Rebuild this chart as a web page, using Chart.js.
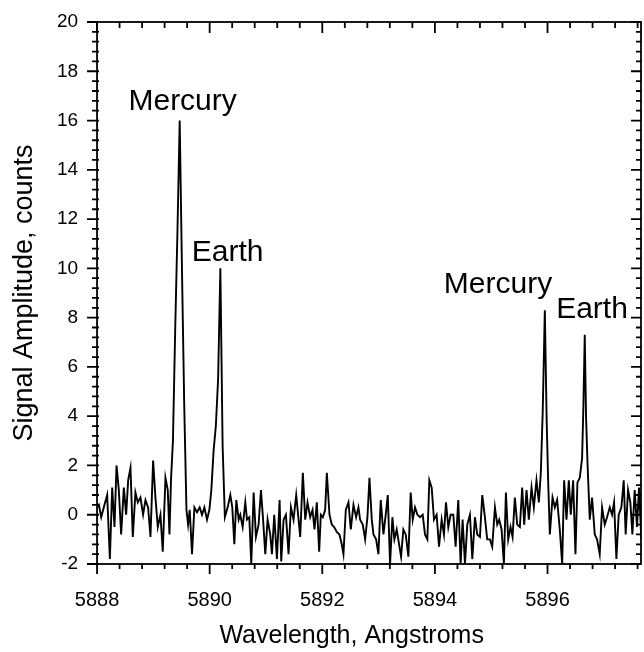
<!DOCTYPE html>
<html>
<head>
<meta charset="utf-8">
<script src="https://cdn.jsdelivr.net/npm/chart.js@4/dist/chart.umd.min.js"></script>
<style>
    html, body { margin: 0; padding: 0; background: #fff; }
    #wrap { position: relative; width: 644px; height: 652px; }
</style>
</head>
<body>
<div id="wrap"><canvas id="chart"></canvas></div>
<script>
// Spectrum: wavelength (Angstroms) and signal (counts)
var wavelength = [
    5888.000, 5888.033, 5888.074, 5888.121, 5888.180, 5888.228, 5888.269, 5888.310, 5888.346, 5888.387,
    5888.428, 5888.476, 5888.517, 5888.553, 5888.594, 5888.635, 5888.682, 5888.724, 5888.771, 5888.818,
    5888.860, 5888.907, 5888.949, 5888.996, 5889.037, 5889.079, 5889.126, 5889.167, 5889.215, 5889.256,
    5889.286, 5889.315, 5889.348, 5889.388, 5889.428, 5889.468, 5889.508, 5889.548, 5889.588, 5889.617,
    5889.646, 5889.687, 5889.729, 5889.776, 5889.823, 5889.864, 5889.906, 5889.953, 5889.995, 5890.030,
    5890.070, 5890.110, 5890.150, 5890.190, 5890.230, 5890.270, 5890.320, 5890.367, 5890.402, 5890.438,
    5890.473, 5890.515, 5890.544, 5890.586, 5890.633, 5890.663, 5890.704, 5890.739, 5890.781, 5890.822,
    5890.869, 5890.911, 5890.946, 5890.988, 5891.029, 5891.076, 5891.106, 5891.147, 5891.195, 5891.242,
    5891.271, 5891.313, 5891.354, 5891.401, 5891.443, 5891.490, 5891.537, 5891.579, 5891.608, 5891.655,
    5891.697, 5891.738, 5891.785, 5891.827, 5891.862, 5891.903, 5891.945, 5891.974, 5892.010, 5892.051,
    5892.081, 5892.128, 5892.169, 5892.211, 5892.258, 5892.305, 5892.346, 5892.376, 5892.418, 5892.465,
    5892.506, 5892.554, 5892.601, 5892.642, 5892.672, 5892.719, 5892.761, 5892.802, 5892.838, 5892.879,
    5892.909, 5892.956, 5892.997, 5893.038, 5893.086, 5893.127, 5893.163, 5893.204, 5893.245, 5893.281,
    5893.322, 5893.364, 5893.399, 5893.440, 5893.482, 5893.529, 5893.570, 5893.606, 5893.647, 5893.689,
    5893.736, 5893.783, 5893.824, 5893.866, 5893.901, 5893.943, 5893.984, 5894.031, 5894.073, 5894.120,
    5894.161, 5894.197, 5894.238, 5894.279, 5894.327, 5894.368, 5894.415, 5894.457, 5894.492, 5894.534,
    5894.575, 5894.622, 5894.664, 5894.711, 5894.752, 5894.800, 5894.841, 5894.888, 5894.929, 5894.977,
    5895.018, 5895.066, 5895.107, 5895.142, 5895.184, 5895.225, 5895.261, 5895.302, 5895.343, 5895.379,
    5895.420, 5895.462, 5895.509, 5895.550, 5895.586, 5895.627, 5895.668, 5895.716, 5895.757, 5895.804,
    5895.846, 5895.881, 5895.915, 5895.952, 5895.985, 5896.011, 5896.041, 5896.089, 5896.130, 5896.171,
    5896.218, 5896.260, 5896.295, 5896.337, 5896.378, 5896.413, 5896.455, 5896.496, 5896.531, 5896.573,
    5896.614, 5896.638, 5896.661, 5896.684, 5896.710, 5896.750, 5896.791, 5896.839, 5896.880, 5896.927,
    5896.969, 5897.016, 5897.057, 5897.105, 5897.146, 5897.182, 5897.223, 5897.264, 5897.312, 5897.353,
    5897.388, 5897.430, 5897.471, 5897.507, 5897.548, 5897.589, 5897.625, 5897.666, 5897.707
]
var counts = [
    0.3, 0.4, -0.1, 0.3, 0.8, -1.8, 1.1, -0.5, 2.0, 1.0,
    -0.8, 1.1, 0.0, 1.4, 1.9, -0.9, 0.9, 0.5, 0.7, 0.0,
    0.6, 0.3, -0.9, 2.2, 0.7, -0.5, 0.0, -1.5, 1.5, 1.0,
    -0.8, 1.5, 3.0, 7.5, 11.5, 16.0, 10.0, 4.5, 0.2, -0.4,
    0.2, -1.6, 0.3, 0.1, 0.3, 0.0, 0.3, -0.2, 0.2, 1.0,
    2.6, 3.6, 5.5, 10.0, 2.8, -0.1, 0.3, 0.8, 0.3, -1.2,
    0.6, -0.2, 0.0, -0.5, 0.5, -0.2, -0.1, -2.0, 0.9, -0.9,
    -0.4, 1.0, -0.1, -1.6, -0.2, -0.8, -1.6, 0.0, -1.8, 0.6,
    -1.9, -0.2, 0.0, -1.6, 0.3, -0.2, 0.8, -0.2, -0.9, 1.7,
    -0.2, 0.5, -0.1, 0.2, -0.6, 0.5, -1.5, 0.0, -0.1, 0.2,
    1.7, 0.0, -0.4, -0.5, -0.7, -0.8, -1.2, -1.6, 0.2, 0.5,
    -0.6, 0.4, -0.1, 0.3, -0.2, -0.4, -1.0, -0.1, 1.5, -0.2,
    -0.8, -1.0, -1.6, 0.6, -0.8, 0.0, 0.8, -2.0, -0.1, -1.0,
    -0.6, -1.2, -1.7, -0.6, -0.8, -1.7, 0.9, -0.2, 0.3, 0.0,
    -0.1, 0.0, -0.8, -1.0, 1.4, 1.1, -0.2, 0.0, -1.3, -0.2,
    -0.8, 0.5, -0.5, 0.0, 0.0, -1.3, 0.6, -2.0, -0.2, -2.0,
    -0.4, 0.0, -1.8, -0.1, -0.8, -0.9, 0.8, -0.1, -1.0, -1.0,
    -1.3, 0.3, -0.4, -0.2, -0.6, -2.0, 0.9, -1.0, -0.5, -0.9,
    0.7, -0.4, -0.5, 1.1, -0.4, 1.0, -0.2, 1.1, 0.3, 1.4,
    0.5, 1.7, 4.2, 8.3, 3.8, 1.4, -0.8, 0.7, 0.3, 0.6,
    -0.6, -2.0, 1.4, -0.2, 1.4, 0.0, 1.4, -1.6, 1.3, 1.5,
    2.3, 4.5, 7.3, 4.0, 2.1, -0.2, 0.7, -0.8, -1.0, -1.6,
    0.3, -0.4, -0.1, 0.3, 0.0, 0.5, -1.8, 0.0, 0.3, 1.4,
    -0.8, 1.0, 0.5, -0.8, 1.0, -0.5, 1.1, -1.0, 0.0
]

// Peak labels and where they sit (data units, text baseline)
var peakLabels = ['Mercury', 'Earth', 'Mercury', 'Earth']
var peakLabelX = [5889.52, 5890.32, 5895.12, 5896.79]
var peakLabelY = [16.43, 10.30, 9.00, 7.98]

var xMin = 5888, xMax = 5897.66, xStep = 0.4, xLabelEvery = 2
var yMin = -2, yMax = 20, yStep = 0.4, yLabelEvery = 2

var fontFamily = "'Liberation Sans', Arial, Helvetica, sans-serif"

function isMajor(value, every) {
    return Math.abs(value / every - Math.round(value / every)) < 1e-6
}

/**
 * Box frame with tick marks: outward on left and bottom, inward on top and right
 */
var frameTicks = {
    id: 'frameTicks',
    afterDraw: function (chart) {
        var ctx = chart.ctx
        var a = chart.chartArea
        var xs = chart.scales.x
        var ys = chart.scales.y
        ctx.save()
        ctx.strokeStyle = '#000'
        ctx.lineWidth = 1.8
        ctx.strokeRect(a.left, a.top, a.right - a.left, a.bottom - a.top)
        ctx.beginPath()
        xs.ticks.forEach(function (t) {
            var px = xs.getPixelForValue(t.value)
            var len = isMajor(t.value, xLabelEvery) ? 10 : 5
            ctx.moveTo(px, a.bottom - 1)
            ctx.lineTo(px, a.bottom + len)
            ctx.moveTo(px, a.top)
            ctx.lineTo(px, a.top + len + 1)
        })
        ys.ticks.forEach(function (t) {
            var py = ys.getPixelForValue(t.value)
            var len = isMajor(t.value, yLabelEvery) ? 10 : 5
            ctx.moveTo(a.left + 2, py)
            ctx.lineTo(a.left - len, py)
            ctx.moveTo(a.right, py)
            ctx.lineTo(a.right - len, py)
        })
        ctx.stroke()
        ctx.restore()
    }
}

/**
 * Text labels next to the emission peaks
 */
var peakText = {
    id: 'peakText',
    afterDatasetsDraw: function (chart) {
        var ctx = chart.ctx
        ctx.save()
        ctx.fillStyle = '#000'
        ctx.font = '30px ' + fontFamily
        ctx.textAlign = 'center'
        ctx.textBaseline = 'alphabetic'
        for (var i = 0; i < peakLabels.length; i++) {
            ctx.fillText(peakLabels[i], chart.scales.x.getPixelForValue(peakLabelX[i]), chart.scales.y.getPixelForValue(peakLabelY[i]))
        }
        ctx.restore()
    }
}

function renderChart() {
    var points = wavelength.map(function (w, i) { return { x: w, y: counts[i] } })

    var config = {
        type: 'line',
        data: {
            datasets: [{
                data: points,
                borderColor: '#000',
                borderWidth: 1.9,
                pointRadius: 0,
                tension: 0,
                fill: false
            }]
        },
        options: {
            responsive: true,
            maintainAspectRatio: false,
            animation: false,
            events: [],
            layout: { padding: { top: 22, right: 3, bottom: 0, left: 0 } },
            plugins: { legend: { display: false }, tooltip: { enabled: false } },
            scales: {
                x: {
                    type: 'linear',
                    min: xMin,
                    max: xMax,
                    border: { display: false },
                    grid: { display: false, drawTicks: false },
                    ticks: {
                        stepSize: xStep,
                        autoSkip: false,
                        includeBounds: false,
                        maxRotation: 0,
                        padding: 2,
                        color: '#000',
                        // tall line box pushes the labels down without widening the right padding
                        font: { size: 20, family: fontFamily, lineHeight: 3.45 },
                        callback: function (v) { return isMajor(v, xLabelEvery) ? String(Math.round(v)) : '' }
                    },
                    title: {
                        display: true,
                        text: 'Wavelength, Angstroms     ',
                        color: '#000',
                        font: { size: 25, family: fontFamily },
                        padding: { top: -16, bottom: 1 }
                    }
                },
                y: {
                    min: yMin,
                    max: yMax,
                    border: { display: false },
                    grid: { display: false, drawTicks: false },
                    ticks: {
                        stepSize: yStep,
                        autoSkip: false,
                        padding: 19,
                        color: '#000',
                        // small line box keeps the top padding under the layout padding
                        font: { size: 19, family: fontFamily, lineHeight: 0.3 },
                        callback: function (v) { return isMajor(v, yLabelEvery) ? String(Math.round(v)) : '' }
                    },
                    title: {
                        display: true,
                        text: 'Signal Amplitude, counts',
                        color: '#000',
                        font: { size: 27, family: fontFamily },
                        padding: { top: 8, bottom: -2.5 }
                    }
                }
            }
        },
        plugins: [frameTicks, peakText]
    }
    return new Chart(document.getElementById('chart'), config)
}

var chart = renderChart()
</script>
</body>
</html>
